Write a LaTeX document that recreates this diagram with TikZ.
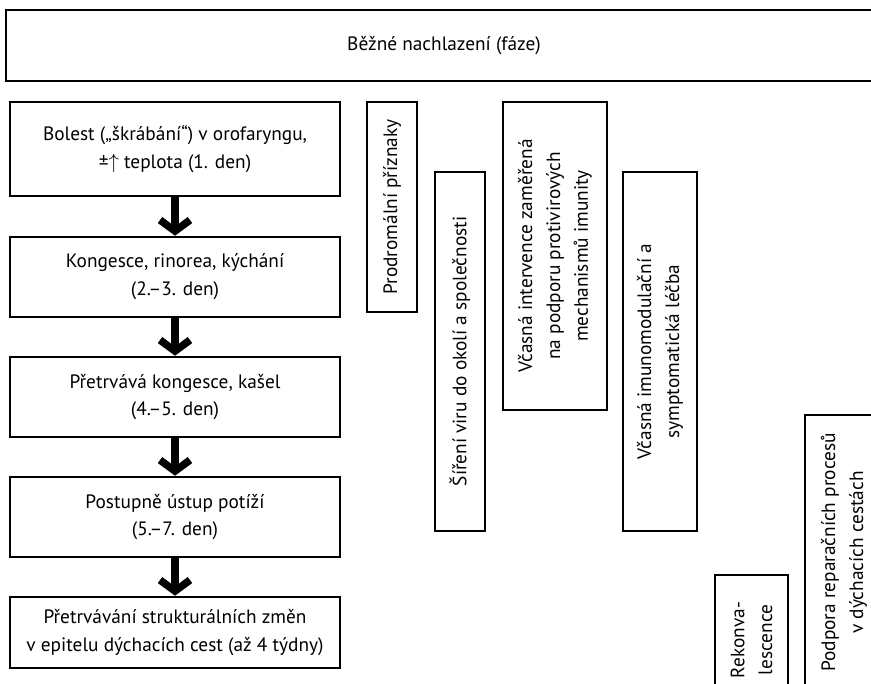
\documentclass[tikz,border=0pt]{standalone}
\usepackage{fontspec}
\setmainfont{PT Sans}
\usetikzlibrary{arrows.meta}
\tikzset{
  phase/.style={draw, line width=2.6bp, align=center, inner sep=0pt,
    font=\fontsize{19.4}{28}\selectfont},
  vphase/.style={phase, rotate=90},
  flow/.style={line width=7.5bp, -{Straight Barb[sharp, length=11bp, width=30bp]}}
}
\begin{document}
\begin{tikzpicture}[x=1bp, y=-1bp]
      \useasboundingbox (0,0) rectangle (871,684);
      \clip (0,0) rectangle (871,684);
      % header
      \path
        (444,45.5) node[phase, minimum width=876bp, minimum height=71bp] (faze) {Běžné nachlazení (fáze)};
      % course of the illness
      \path
        (175,149) node[phase, minimum width=330bp, minimum height=94bp] (den1)
          {Bolest („škrábání“) v orofaryngu,\\ ±$\uparrow$ teplota (1. den)}
        (175,277) node[phase, minimum width=330bp, minimum height=80bp] (den2)
          {Kongesce, rinorea, kýchání\\ (2.–3. den)}
        (175,397) node[phase, minimum width=330bp, minimum height=80bp] (den4)
          {Přetrvává kongesce, kašel\\ (4.–5. den)}
        (175,517) node[phase, minimum width=330bp, minimum height=80bp] (den5)
          {Postupně ústup potíží\\ (5.–7. den)}
        (175,632.5) node[phase, minimum width=330bp, minimum height=71bp] (tydny)
          {Přetrvávání strukturálních změn\\ v epitelu dýchacích cest (až 4 týdny)};
      % phases and interventions
      \path
        (392,207) node[vphase, minimum width=210bp, minimum height=50bp] (prodrom)
          {Prodromální příznaky}
        (460,351.5) node[vphase, minimum width=359bp, minimum height=50bp] (sireni)
          {Šíření viru do okolí a společnosti}
        (555,256) node[vphase, minimum width=308bp, minimum height=104bp] (intervence)
          {Včasná intervence zaměřená\\ na podporu protivirových\\ mechanismů imunity}
        (660,351.5) node[vphase, minimum width=359bp, minimum height=74bp] (lecba)
          {Včasná imunomodulační a\\ symptomatická léčba}
        (751.5,640) node[vphase, minimum width=130bp, minimum height=73bp] (rekonv)
          {Rekonva-\\ lescence}
        (844,552.5) node[vphase, minimum width=275bp, minimum height=78bp] (reparace)
          {Podpora reparačních procesů\\ v dýchacích cestách};
      \begin{scope}[flow]
        \draw (den1) to (den2);
        \draw (den2) to (den4);
        \draw (den4) to (den5);
        \draw (den5) to (tydny);
      \end{scope}
    \end{tikzpicture}
\end{document}
